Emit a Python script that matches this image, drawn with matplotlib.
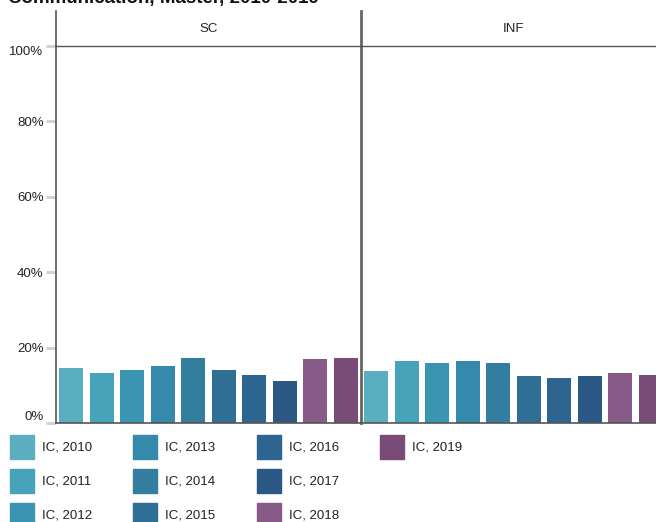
import matplotlib
matplotlib.use("Agg")
import matplotlib.pyplot as plt
from matplotlib.patches import Rectangle
from matplotlib.lines import Line2D

plt.rcParams['font.family'] = ['Liberation Sans', 'DejaVu Sans']

title = "Communication, Master, 2010-2019"
panels = ["SC", "INF"]
series = ["IC, 2010", "IC, 2011", "IC, 2012", "IC, 2013", "IC, 2014",
          "IC, 2015", "IC, 2016", "IC, 2017", "IC, 2018", "IC, 2019"]
colors = ["#5BADC0", "#46A3BA", "#3B94B0", "#3589AA", "#337D9F",
          "#306F95", "#2E6490", "#2C5886", "#875A87", "#7A4B76"]
sc_values = [14.6, 13.3, 14.1, 15.1, 17.2, 14.1, 12.7, 11.1, 17.0, 17.2]
inf_values = [13.7, 16.4, 15.9, 16.4, 15.9, 12.4, 11.9, 12.4, 13.2, 12.7]
yticks = [0, 20, 40, 60, 80, 100]
yticklabels = ["0%", "20%", "40%", "60%", "80%", "100%"]

W, H = 656, 522
fig = plt.figure(figsize=(W / 100, H / 100), dpi=100)

def fx(px):
    return px / W

def fy(py):
    return 1 - py / H

top, bottom = 46, 423
panel_w = 305
lefts = [56, 361]
vals = [sc_values, inf_values]
axes = []
for i, (name, v) in enumerate(zip(panels, vals)):
    ax = fig.add_axes([fx(lefts[i]), fy(bottom), panel_w / W, (bottom - top) / H])
    ax.bar(range(len(v)), v, width=0.79, color=colors, zorder=2)
    ax.set_xlim(-0.5, len(v) - 0.5)
    ax.set_ylim(0, 100)
    ax.set_xticks([])
    for s in ['top', 'right']:
        ax.spines[s].set_visible(False)
    ax.spines['bottom'].set_color('#555555')
    ax.spines['bottom'].set_linewidth(1.2)
    ax.spines['left'].set_color('#555555')
    ax.spines['left'].set_linewidth(1.2)
    if i == 0:
        ax.set_yticks(yticks)
        ax.set_yticklabels(yticklabels, fontsize=9.5, color='#222222')
        ax.tick_params(axis='y', length=7, width=2, color='#d0d0d0', pad=2)
        labs = ax.get_yticklabels()
        labs[0].set_va('bottom')
        labs[-1].set_va('top')
    else:
        ax.set_yticks([])
        ax.spines['left'].set_linewidth(2.0)
        ax.spines['left'].set_color('#666666')
    axes.append(ax)
    # strip label
    fig.text(fx(lefts[i] + panel_w / 2), fy(29), name, ha='center', va='center',
             fontsize=9.5, color='#222222')
    # vertical line through strip
    fig.add_artist(Line2D([fx(lefts[i]), fx(lefts[i])], [fy(11), fy(top)],
                          color='#555555' if i == 0 else '#666666',
                          lw=1.2 if i == 0 else 2.0))

# strip bottom line
fig.add_artist(Line2D([fx(56), 1.0], [fy(top), fy(top)], color='#555555', lw=1.0))

# title (cut off at top, as in the reference)
fig.text(fx(8), fy(-1), title, ha='left', va='center', fontsize=13.5,
         fontweight='bold', color='#111111')

# legend
col_x = [10, 133, 257, 380]
row_y = [435, 469, 503]
for k, (lab, c) in enumerate(zip(series, colors)):
    col, row = divmod(k, 3)
    x0, y0 = col_x[col], row_y[row]
    fig.add_artist(Rectangle((fx(x0), fy(y0 + 24)), 24 / W, 24 / H,
                             transform=fig.transFigure, color=c))
    fig.text(fx(x0 + 32), fy(y0 + 12), lab, ha='left', va='center',
             fontsize=9.5, color='#222222')

fig.savefig("out.png", dpi=100)
